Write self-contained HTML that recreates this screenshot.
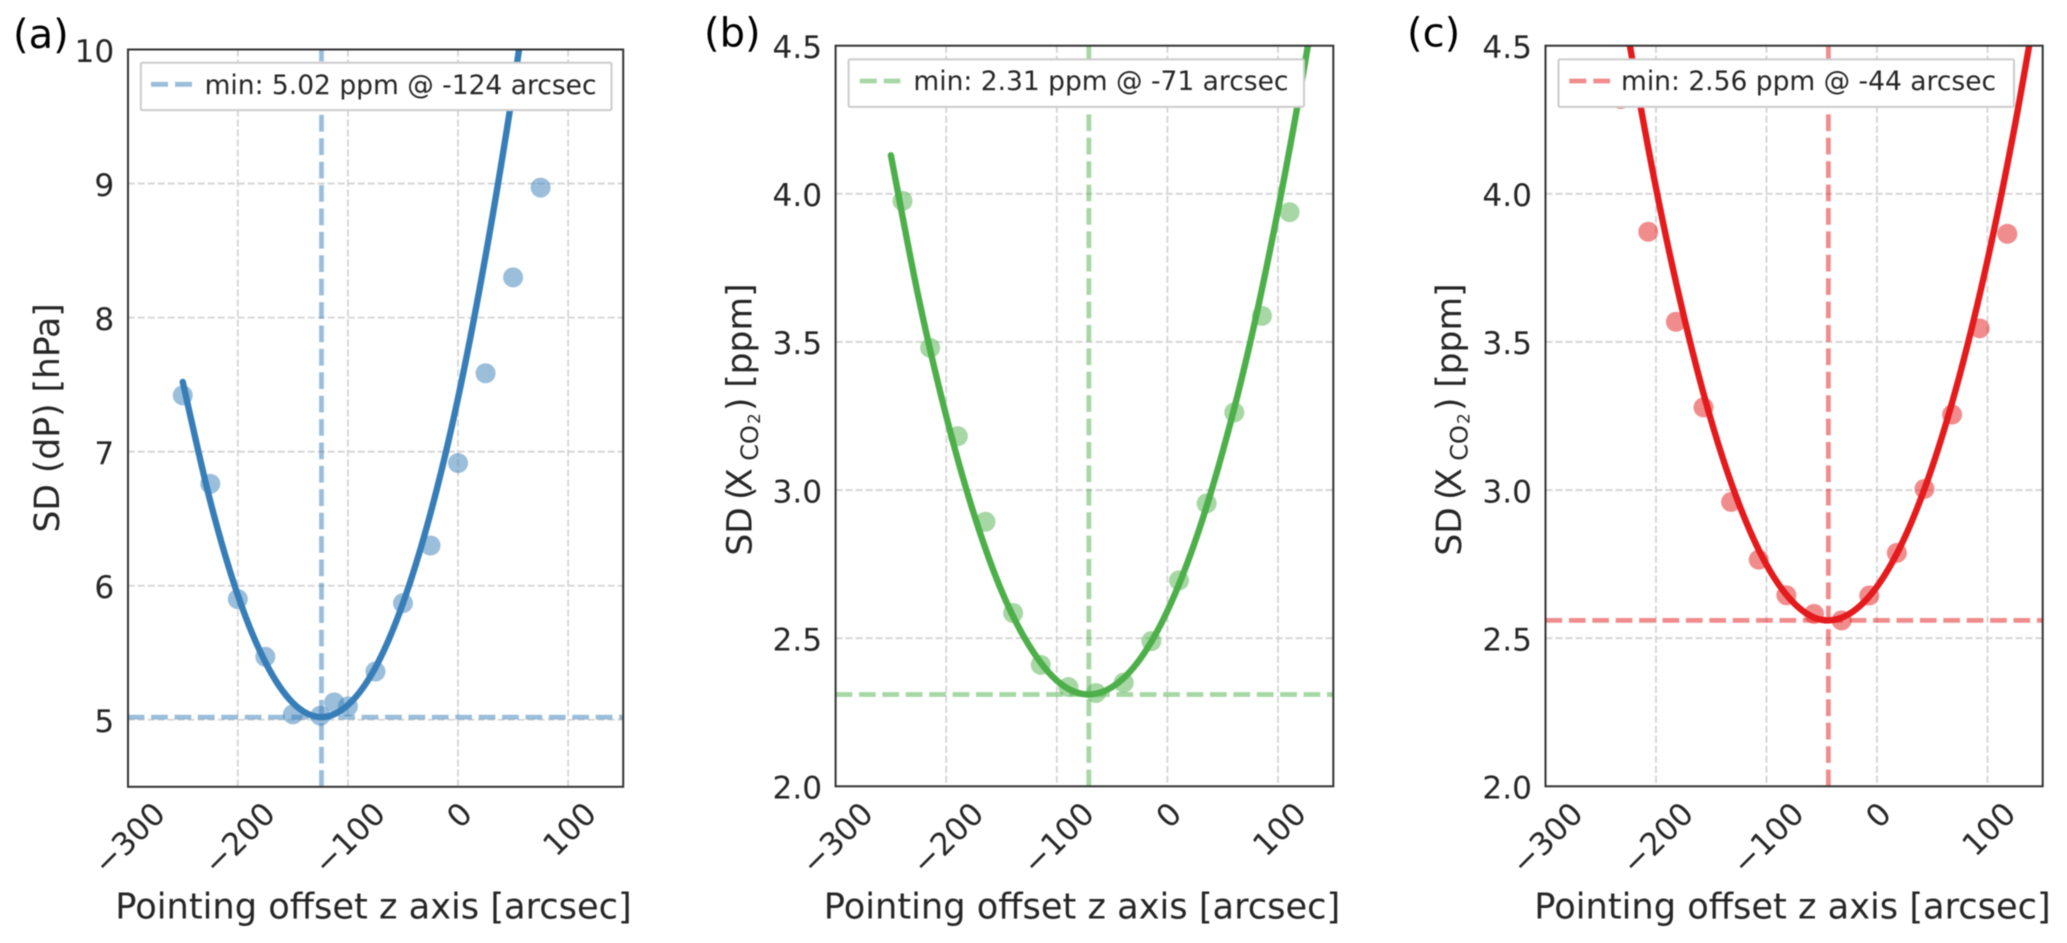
<!DOCTYPE html>
<html lang="en">
<head>
<meta charset="utf-8">
<title>Pointing offset scatter panels</title>
<style>
html,body{margin:0;padding:0;background:#fff;}
body{width:2067px;height:943px;overflow:hidden;}
svg{display:block;filter:blur(0.55px);}
text{font-family:"DejaVu Sans","Liberation Sans",sans-serif;fill:#262626;}
.axis-title{font-size:34.5px;}
.x-title{font-size:35.2px;}
.legend-text{font-size:26.5px;}
.panel-tag{font-size:40px;fill:#000;}
.tick-text{font-size:31.2px;}
</style>
</head>
<body>
<svg id="figure" width="2067" height="943" viewBox="0 0 2067 943" xmlns="http://www.w3.org/2000/svg">
  <rect x="0" y="0" width="2067" height="943" fill="#ffffff"/>
  <defs>
    <clipPath id="clip-a"><rect x="128" y="49.5" width="495.2" height="737.3"/></clipPath>
    <clipPath id="clip-b"><rect x="835.6" y="45.7" width="497.7" height="740.6"/></clipPath>
    <clipPath id="clip-c"><rect x="1545.5" y="45.7" width="497.2" height="740.6"/></clipPath>
  </defs>

  <!-- Panel A -->
  <g>
    <g id="grid-a" clip-path="url(#clip-a)"></g>
    <g id="marks-a" clip-path="url(#clip-a)"></g>
    <rect x="128" y="49.5" width="495.2" height="737.3" fill="none" stroke="#333333" stroke-width="2"/>
    <g id="ticks-a"></g>
    <g>
      <rect x="140.8" y="62.8" width="470.7" height="47.3" rx="1.5" fill="#ffffff" stroke="#cccccc" stroke-width="2"/>
      <line x1="151" y1="84.3" x2="192.5" y2="84.3" stroke="#377eb8" stroke-opacity="0.5" stroke-width="4.8" stroke-dasharray="17 7"/>
      <text class="legend-text" x="204.6" y="94">min: 5.02 ppm @ -124 arcsec</text>
    </g>
    <text class="x-title" x="373.5" y="918.3" text-anchor="middle">Pointing offset z axis [arcsec]</text>
    <text class="axis-title" transform="translate(59,532.5) rotate(-90)">SD (dP) [hPa]</text>
    <text class="panel-tag" x="13" y="48">(a)</text>
  </g>

  <!-- Panel B -->
  <g>
    <g id="grid-b" clip-path="url(#clip-b)"></g>
    <g id="marks-b" clip-path="url(#clip-b)"></g>
    <rect x="835.6" y="45.7" width="497.7" height="740.6" fill="none" stroke="#333333" stroke-width="2"/>
    <g id="ticks-b"></g>
    <g>
      <rect x="848.6" y="59.4" width="455.4" height="47.5" rx="1.5" fill="#ffffff" stroke="#cccccc" stroke-width="2"/>
      <line x1="859.8" y1="81" x2="900.3" y2="81" stroke="#4daf4a" stroke-opacity="0.5" stroke-width="4.8" stroke-dasharray="17 7"/>
      <text class="legend-text" x="913.4" y="90">min: 2.31 ppm @ -71 arcsec</text>
    </g>
    <text class="x-title" x="1082" y="918.3" text-anchor="middle">Pointing offset z axis [arcsec]</text>
    <g>
      <text class="axis-title" transform="translate(751.5,555.6) rotate(-90)">SD</text>
      <text class="axis-title" transform="translate(751.5,500) rotate(-90)">(</text>
      <text class="axis-title" transform="translate(751.5,491.7) rotate(-90)">X</text>
      <text transform="translate(758,460.7) rotate(-90)" font-size="24">CO</text>
      <text transform="translate(760,424) rotate(-90)" font-size="17">2</text>
      <text class="axis-title" transform="translate(751.5,411) rotate(-90)">)</text>
      <text class="axis-title" transform="translate(751.5,387.8) rotate(-90)">[ppm]</text>
    </g>
    <text class="panel-tag" x="704" y="46.5">(b)</text>
  </g>

  <!-- Panel C -->
  <g>
    <g id="grid-c" clip-path="url(#clip-c)"></g>
    <g id="marks-c" clip-path="url(#clip-c)"></g>
    <rect x="1545.5" y="45.7" width="497.2" height="740.6" fill="none" stroke="#333333" stroke-width="2"/>
    <g id="ticks-c"></g>
    <g>
      <rect x="1558.5" y="59.4" width="455.5" height="47.5" rx="1.5" fill="#ffffff" stroke="#cccccc" stroke-width="2"/>
      <line x1="1569.3" y1="81" x2="1610" y2="81" stroke="#e41a1c" stroke-opacity="0.5" stroke-width="4.8" stroke-dasharray="17 7"/>
      <text class="legend-text" x="1621" y="90">min: 2.56 ppm @ -44 arcsec</text>
    </g>
    <text class="x-title" x="1792.5" y="918.3" text-anchor="middle">Pointing offset z axis [arcsec]</text>
    <g>
      <text class="axis-title" transform="translate(1461,555.6) rotate(-90)">SD</text>
      <text class="axis-title" transform="translate(1461,500) rotate(-90)">(</text>
      <text class="axis-title" transform="translate(1461,491.7) rotate(-90)">X</text>
      <text transform="translate(1467.5,460.7) rotate(-90)" font-size="24">CO</text>
      <text transform="translate(1469.5,424) rotate(-90)" font-size="17">2</text>
      <text class="axis-title" transform="translate(1461,411) rotate(-90)">)</text>
      <text class="axis-title" transform="translate(1461,387.8) rotate(-90)">[ppm]</text>
    </g>
    <text class="panel-tag" x="1407" y="46.5">(c)</text>
  </g>
</svg>

<script>
// Shared tick values
const xTickValues = [-300, -200, -100, 0, 100];
const xTickLabels = ["\u2212300", "\u2212200", "\u2212100", "0", "100"];

// Panel A data
const yTicksA = [5, 6, 7, 8, 9, 10];
const yTickLabelsA = ["5", "6", "7", "8", "9", "10"];
const pointsXA = [-250, -225, -200, -175, -150, -125, -112.5, -100, -75, -50, -25, 0, 25, 50, 75];
const pointsYA = [7.42, 6.76, 5.90, 5.47, 5.04, 5.03, 5.13, 5.10, 5.36, 5.87, 6.30, 6.915, 7.585, 8.30, 8.97];
const fitXA = [-250, -225, -200, -175, -150, -125, -100, -75, -50, -25, 0, 25, 50, 75];
const fitYA = [7.52, 6.63, 5.93, 5.43, 5.126, 5.02, 5.11, 5.39, 5.87, 6.54, 7.40, 8.46, 9.70, 11.12];
const minXA = -124;
const minYA = 5.02;

// Panel B data
const yTicksB = [2.0, 2.5, 3.0, 3.5, 4.0, 4.5];
const yTickLabelsB = ["2.0", "2.5", "3.0", "3.5", "4.0", "4.5"];
const pointsXB = [-239.5, -214.5, -189.5, -164.5, -139.5, -114.5, -89.5, -64.5, -39.5, -14.5, 10.5, 35.5, 60.5, 85.5, 110.5];
const pointsYB = [3.976, 3.48, 3.182, 2.893, 2.585, 2.41, 2.335, 2.315, 2.35, 2.49, 2.695, 2.955, 3.262, 3.588, 3.938];
const fitXB = [-250, -225, -200, -175, -150, -125, -100, -75, -50, -25, 0, 25, 50, 75, 100, 125, 150];
const fitYB = [4.13, 3.65, 3.25, 2.92, 2.66, 2.475, 2.357, 2.311, 2.335, 2.428, 2.592, 2.826, 3.13, 3.50, 3.945, 4.455, 5.04];
const minXB = -71;
const minYB = 2.31;

// Panel C data
const yTicksC = [2.0, 2.5, 3.0, 3.5, 4.0, 4.5];
const yTickLabelsC = ["2.0", "2.5", "3.0", "3.5", "4.0", "4.5"];
const pointsXC = [-232, -207, -182, -157, -132, -107, -82, -57, -32, -7, 18, 43, 68, 93, 118];
const pointsYC = [4.32, 3.872, 3.568, 3.279, 2.96, 2.765, 2.645, 2.582, 2.56, 2.644, 2.788, 3.004, 3.255, 3.546, 3.865];
const fitXC = [-250, -225, -200, -175, -150, -125, -100, -75, -50, -25, 0, 25, 50, 75, 100, 125, 150];
const fitYC = [5.11, 4.53, 4.02, 3.59, 3.234, 2.954, 2.748, 2.618, 2.562, 2.582, 2.674, 2.839, 3.078, 3.39, 3.775, 4.234, 4.765];
const minXC = -44;
const minYC = 2.56;

const SVG_NS = "http://www.w3.org/2000/svg";

function mk(tag, attrs, parent) {
  const el = document.createElementNS(SVG_NS, tag);
  Object.keys(attrs).forEach(function (k) { el.setAttribute(k, attrs[k]); });
  parent.appendChild(el);
  return el;
}

function smoothPath(px, py) {
  let d = "M" + px[0].toFixed(2) + " " + py[0].toFixed(2);
  for (let i = 0; i < px.length - 1; i++) {
    const x0 = px[Math.max(i - 1, 0)], y0 = py[Math.max(i - 1, 0)];
    const x1 = px[i], y1 = py[i];
    const x2 = px[i + 1], y2 = py[i + 1];
    const x3 = px[Math.min(i + 2, px.length - 1)], y3 = py[Math.min(i + 2, px.length - 1)];
    const c1x = x1 + (x2 - x0) / 6, c1y = y1 + (y2 - y0) / 6;
    const c2x = x2 - (x3 - x1) / 6, c2y = y2 - (y3 - y1) / 6;
    d += "C" + c1x.toFixed(2) + " " + c1y.toFixed(2) + " " + c2x.toFixed(2) + " " + c2y.toFixed(2) + " " + x2.toFixed(2) + " " + y2.toFixed(2);
  }
  return d;
}

function drawPanel(cfg) {
  const sx = function (v) { return cfg.left + (v - cfg.xMin) / (cfg.xMax - cfg.xMin) * (cfg.right - cfg.left); };
  const sy = function (v) { return cfg.bottom - (v - cfg.yMin) / (cfg.yMax - cfg.yMin) * (cfg.bottom - cfg.top); };
  const grid = document.getElementById("grid-" + cfg.id);
  const marks = document.getElementById("marks-" + cfg.id);
  const ticks = document.getElementById("ticks-" + cfg.id);

  xTickValues.forEach(function (v, i) {
    const g = mk("line", { x1: sx(v), x2: sx(v), y1: cfg.top, y2: cfg.bottom, stroke: "#d4d4d4", "stroke-width": 1.8, "stroke-dasharray": "7 3" }, grid);
    
    
    const t = mk("text", { "class": "tick-text", "text-anchor": "middle" }, ticks);
    t.textContent = xTickLabels[i];
    
    
    const w = t.getComputedTextLength();
    const cy = 800 + (w + 22) * 0.3535;
    t.setAttribute("transform", "translate(" + (sx(v) + 1) + "," + cy + ") rotate(-45) translate(0,11.3)");
  });

  cfg.yTicks.forEach(function (v, i) {
    const g = mk("line", { x1: cfg.left, x2: cfg.right, y1: sy(v), y2: sy(v), stroke: "#d4d4d4", "stroke-width": 1.8, "stroke-dasharray": "7 3" }, grid);
    
    
    const t = mk("text", { "class": "tick-text", "text-anchor": "end", x: cfg.left - 13.5, y: sy(v) + 12.3 }, ticks);
    t.textContent = cfg.yLabels[i];
    
    
  });

  const hl = mk("line", { x1: cfg.left, x2: cfg.right, y1: sy(cfg.minY), y2: sy(cfg.minY), stroke: cfg.color, "stroke-opacity": 0.5, "stroke-width": 4.8, "stroke-dasharray": "16.7 6.7" }, marks);
  
  
  const vl = mk("line", { x1: sx(cfg.minX), x2: sx(cfg.minX), y1: cfg.bottom, y2: cfg.top, stroke: cfg.color, "stroke-opacity": 0.5, "stroke-width": 4.8, "stroke-dasharray": "16.7 6.7" }, marks);
  
  

  cfg.pointsX.forEach(function (v, i) {
    const c = mk("circle", { cx: sx(v), cy: sy(cfg.pointsY[i]), r: 10, fill: cfg.color, "fill-opacity": 0.5 }, marks);
    
    
  });

  const curve = mk("path", { d: smoothPath(cfg.fitX.map(sx), cfg.fitY.map(sy)), fill: "none", stroke: cfg.color, "stroke-width": 6.4, "stroke-linecap": "round", "stroke-linejoin": "round" }, marks);
  
  
}

drawPanel({ id: "a", left: 127.7, right: 623.2, top: 49.5, bottom: 786.8, xMin: -300, xMax: 150, yMin: 4.5, yMax: 10,
  color: "#377eb8", yTicks: yTicksA, yLabels: yTickLabelsA, pointsX: pointsXA, pointsY: pointsYA, fitX: fitXA, fitY: fitYA, minX: minXA, minY: minYA });
drawPanel({ id: "b", left: 835.6, right: 1333.3, top: 45.7, bottom: 786.3, xMin: -300, xMax: 150, yMin: 2, yMax: 4.5,
  color: "#4daf4a", yTicks: yTicksB, yLabels: yTickLabelsB, pointsX: pointsXB, pointsY: pointsYB, fitX: fitXB, fitY: fitYB, minX: minXB, minY: minYB });
drawPanel({ id: "c", left: 1545.5, right: 2042.7, top: 45.7, bottom: 786.3, xMin: -300, xMax: 150, yMin: 2, yMax: 4.5,
  color: "#e41a1c", yTicks: yTicksC, yLabels: yTickLabelsC, pointsX: pointsXC, pointsY: pointsYC, fitX: fitXC, fitY: fitYC, minX: minXC, minY: minYC });
</script>
</body>
</html>
